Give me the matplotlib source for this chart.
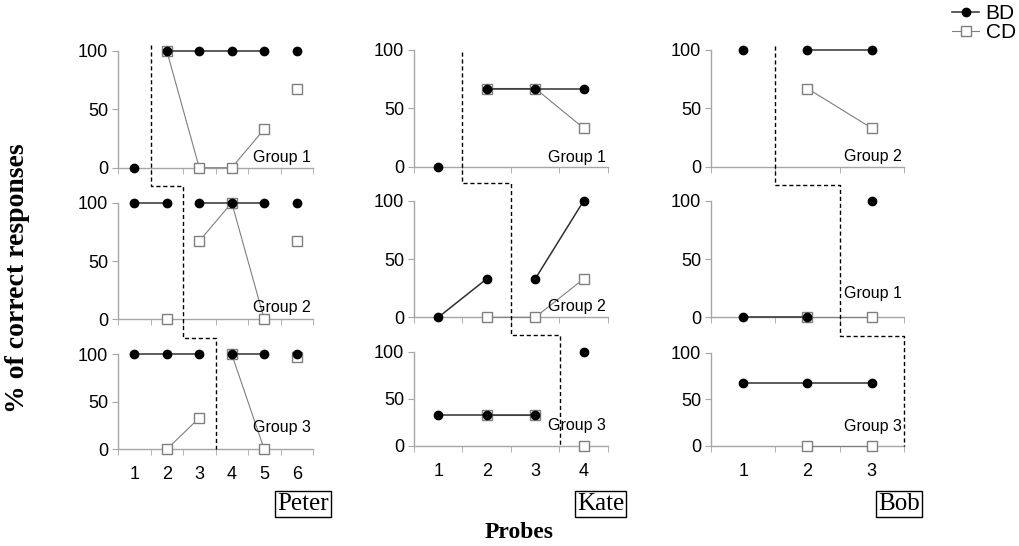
import numpy as np
import matplotlib.pyplot as plt
from matplotlib.lines import Line2D

nan = np.nan

# values per group (rows) for each child, probes on x
peter_bd = [[0, 100, 100, 100, 100, 100], [100, 100, 100, 100, 100, 100], [100, 100, 100, 100, 100, 100]]
peter_cd = [[nan, 100, 0, 0, 33, 67], [nan, 0, 67, 100, 0, 67], [nan, 0, 33, 100, 0, 97]]
peter_bd_runs = [[1, 2, 2, 2, 2, 3], [1, 1, 2, 2, 2, 3], [1, 1, 1, 2, 2, 3]]
peter_cd_runs = [[0, 1, 1, 1, 1, 2], [0, 1, 2, 2, 2, 3], [0, 1, 1, 2, 2, 3]]
peter_groups = ["Group 1", "Group 2", "Group 3"]

kate_bd = [[0, 67, 67, 67], [0, 33, 33, 100], [33, 33, 33, 100]]
kate_cd = [[nan, 67, 67, 33], [nan, 0, 0, 33], [nan, 33, 33, 0]]
kate_bd_runs = [[1, 2, 2, 2], [1, 1, 2, 2], [1, 1, 1, 2]]
kate_cd_runs = [[0, 1, 1, 1], [0, 1, 1, 1], [0, 1, 1, 2]]
kate_groups = ["Group 1", "Group 2", "Group 3"]

bob_bd = [[100, 100, 100], [0, 0, 100], [67, 67, 67]]
bob_cd = [[nan, 67, 33], [nan, 0, 0], [nan, 0, 0]]
bob_bd_runs = [[1, 2, 2], [1, 1, 2], [1, 1, 1]]
bob_cd_runs = [[0, 1, 1], [0, 1, 1], [0, 1, 1]]
bob_groups = ["Group 2", "Group 1", "Group 3"]

plt.rcParams['font.family'] = ['Liberation Sans', 'DejaVu Sans']

fig = plt.figure(figsize=(10.2, 5.46), dpi=100)
W, H = 1020.0, 546.0

# column pixel extents and row pixel extents (top=100, bottom=0)
cols = [(118, 313), (414, 608), (711, 904)]
rows = [[(50.7, 167.7), (202.7, 319.3), (354.3, 449.3)],
        [(50, 166.7), (200.7, 317.3), (351.7, 446)],
        [(50, 166.7), (200.7, 317.3), (352.7, 446)]]
label_y = [[9, 10, 23], [7.5, 9, 21.5], [9, 20, 21]]

people = [(peter_bd, peter_cd, peter_bd_runs, peter_cd_runs, peter_groups, "Peter"),
          (kate_bd, kate_cd, kate_bd_runs, kate_cd_runs, kate_groups, "Kate"),
          (bob_bd, bob_cd, bob_bd_runs, bob_cd_runs, bob_groups, "Bob")]

# dashed phase-change line (row, x, y)
phase = [[(0, 1.5, 105), (0, 1.5, -16), (0, 2.5, -16), (1, 2.5, -16), (1, 3.5, -16), (2, 3.5, 0)],
         [(0, 1.5, 98), (0, 1.5, -14), (0, 2.5, -14), (1, 2.5, -15), (1, 3.5, -15), (2, 3.5, 0)],
         [(0, 1.5, 103), (0, 1.5, -16), (0, 2.5, -16), (1, 2.5, -16), (1, 3.5, -16), (2, 3.5, 0)]]

axgray = '#a6a6a6'
all_axes = []
for c, (bd, cd, bdr, cdr, groups, name) in enumerate(people):
    x0, x1 = cols[c]
    col_axes = []
    for r in range(3):
        yt, yb = rows[c][r]
        ax = fig.add_axes([x0 / W, 1 - yb / H, (x1 - x0) / W, (yb - yt) / H])
        n = len(bd[r])
        x = np.arange(1, n + 1)
        b = np.array(bd[r], float)
        d = np.array(cd[r], float)
        for run in sorted(set(cdr[r])):
            if run == 0:
                continue
            idx = [i for i in range(n) if cdr[r][i] == run]
            ax.plot(x[idx], d[idx], '-', color='#7f7f7f', lw=0.8, marker='s', ms=7.5,
                    mfc='white', mec='#7f7f7f', mew=1, clip_on=False, zorder=3)
        for run in sorted(set(bdr[r])):
            idx = [i for i in range(n) if bdr[r][i] == run]
            ax.plot(x[idx], b[idx], '-', color='#303030', lw=1.1, marker='o', ms=6,
                    mfc='black', mec='black', clip_on=False, zorder=4)
        ax.set_xlim(0.5, n + 0.5)
        ax.set_ylim(0, 100)
        ax.set_yticks([0, 50, 100])
        ax.set_xticks(x)
        ax.set_xticks(np.arange(0.5, n + 1, 1), minor=True)
        ax.tick_params(axis='x', which='major', length=0, labelsize=13, pad=12)
        ax.tick_params(axis='x', which='minor', length=4, color=axgray, direction='out')
        ax.tick_params(axis='y', length=4, color=axgray, labelsize=13, pad=3)
        if r < 2:
            ax.set_xticklabels([])
        for s in ['top', 'right']:
            ax.spines[s].set_visible(False)
        for s in ['left', 'bottom']:
            ax.spines[s].set_color(axgray)
            ax.spines[s].set_linewidth(1)
        ax.patch.set_alpha(0)
        ax.text(0.99, label_y[c][r], groups[r], transform=ax.get_yaxis_transform(),
                ha='right', va='center', fontsize=11.5, zorder=5)
        col_axes.append(ax)
    all_axes.append(col_axes)

    # name box
    fig.text((x1 + 16) / W, 1 - 504 / H, name, ha='right', va='center', fontsize=18,
             family='Liberation Serif',
             bbox=dict(boxstyle='square,pad=0.08', fc='white', ec='black', lw=1))

    # dashed phase line
    pts = []
    for (r, xv, yv) in phase[c]:
        disp = col_axes[r].transData.transform((xv, yv))
        pts.append(fig.transFigure.inverted().transform(disp))
    pts = np.array(pts)
    fig.add_artist(Line2D(pts[:, 0], pts[:, 1], transform=fig.transFigure, color='black',
                          lw=1, ls=(0, (3, 2)), zorder=2))

fig.text(519 / W, 1 - 533 / H, "Probes", ha='center', va='center', fontsize=17,
         fontweight='bold', family='Liberation Serif')
fig.text(18 / W, 1 - 278 / H, "% of correct responses", ha='center', va='center',
         rotation=90, fontsize=20, fontweight='bold', family='Liberation Serif')

handles = [Line2D([], [], color='#303030', lw=1.1, marker='o', ms=6, mfc='black', mec='black'),
           Line2D([], [], color='#7f7f7f', lw=0.8, marker='s', ms=7.5, mfc='white', mec='#7f7f7f')]
fig.legend(handles, ["BD", "CD"], loc='upper right', bbox_to_anchor=(1.0, 1.0), frameon=False,
           fontsize=15, handlelength=1.3, handletextpad=0.3, labelspacing=0.0,
           borderaxespad=0.1, borderpad=0.1)

fig.savefig("out.png", dpi=100)
